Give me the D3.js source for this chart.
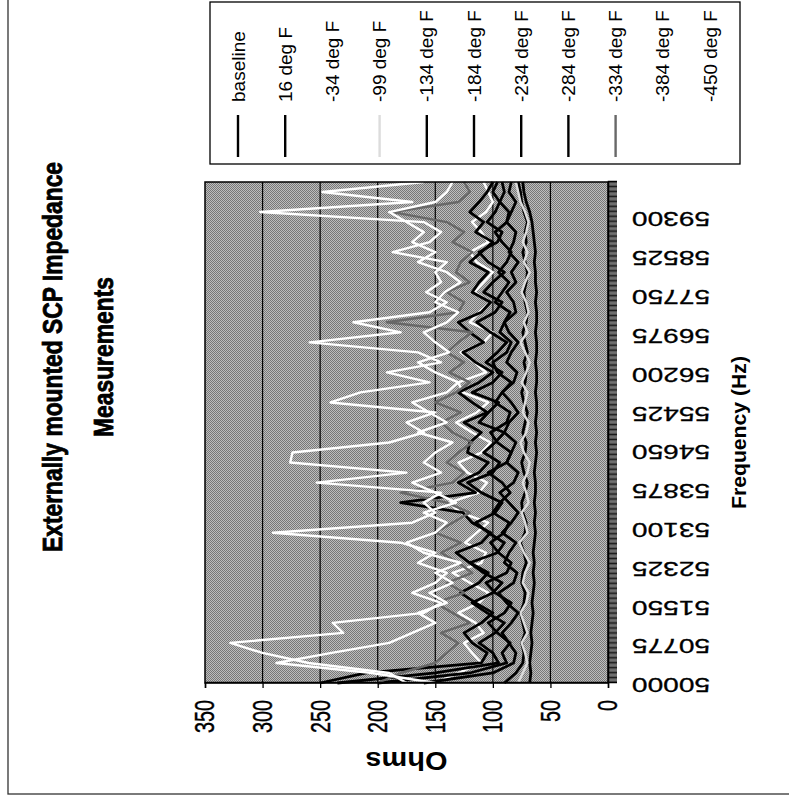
<!DOCTYPE html>
<html>
<head>
<meta charset="utf-8">
<title>SCP Impedance</title>
<script src="https://cdn.jsdelivr.net/npm/d3@7/dist/d3.min.js"></script>
<style>
  body { margin: 0; background: #fff; }
  svg { display: block; }
  text { font-family: "Liberation Sans", Arial, sans-serif; fill: #000; }
</style>
</head>
<body>
<svg width="789" height="807"></svg>
<script>
var freqs = [50000, 50200, 50400, 50600, 50800, 51000, 51200, 51400, 51600, 51800,
             52000, 52200, 52400, 52600, 52800, 53000, 53200, 53400, 53600, 53800,
             54000, 54200, 54400, 54600, 54800, 55000, 55200, 55400, 55600, 55800,
             56000, 56200, 56400, 56600, 56800, 57000, 57200, 57400, 57600, 57800,
             58000, 58200, 58400, 58600, 58800, 59000, 59200, 59400, 59600, 59800, 60000];
var freqLabels = [50000, 50775, 51550, 52325, 53100, 53875, 54650, 55425, 56200, 56975, 57750, 58525, 59300];
var ohmTicks = [0, 50, 100, 150, 200, 250, 300, 350];

var seriesNames = ["baseline", "16 deg F", "-34 deg F", "-99 deg F", "-134 deg F", "-184 deg F",
                   "-234 deg F", "-284 deg F", "-334 deg F", "-384 deg F", "-450 deg F"];
var seriesColors = ["#000", "#000", "#fff", "#dcdcdc", "#000", "#000", "#000", "#000", "#686868", "#fff", "#fff"];

var baseline = [68, 67, 68, 67, 66, 67, 66, 65, 66, 65, 64, 65, 64, 65, 64, 63, 64, 63, 64, 63,
                63, 64, 63, 62, 63, 62, 63, 62, 62, 63, 62, 62, 63, 62, 62, 63, 62, 62, 63, 62,
                63, 63, 64, 63, 64, 65, 66, 68, 71, 73, 74];
var deg16 = [90, 80, 74, 73, 75, 72, 74, 76, 73, 72, 75, 74, 71, 73, 76, 72, 71, 74, 75, 72,
             70, 73, 75, 72, 71, 74, 72, 70, 73, 75, 72, 71, 73, 70, 72, 74, 71, 70, 72, 73,
             71, 70, 72, 74, 71, 72, 70, 73, 75, 76, 78];
var deg34 = [150, 130, 110, 118, 125, 108, 115, 130, 112, 104, 120, 135, 110, 106, 124, 114, 104, 128, 138, 112,
             105, 122, 130, 110, 102, 118, 132, 114, 104, 126, 130, 106, 116, 128, 108, 100, 120, 112, 102, 116,
             108, 100, 114, 120, 104, 110, 118, 106, 100, 104, 108];
var deg99 = [78, 74, 70, 72, 75, 70, 73, 76, 71, 69, 74, 72, 68, 73, 77, 70, 72, 75, 69, 71,
             74, 70, 68, 73, 76, 71, 69, 74, 72, 70, 75, 71, 68, 72, 76, 70, 73, 69, 71, 75,
             72, 68, 73, 70, 74, 71, 69, 72, 76, 78, 80];
var deg134 = [160, 100, 82, 80, 86, 92, 84, 78, 88, 95, 82, 79, 90, 86, 80, 92, 84, 78, 86, 94,
              82, 78, 88, 84, 80, 90, 86, 78, 84, 92, 82, 79, 88, 84, 78, 86, 90, 80, 82, 88,
              80, 84, 78, 86, 82, 80, 88, 84, 80, 86, 84];
var deg184 = [200, 120, 88, 92, 85, 96, 104, 90, 84, 98, 106, 88, 84, 95, 102, 90, 86, 100, 94, 85,
              92, 104, 88, 84, 96, 102, 88, 85, 98, 92, 84, 96, 100, 88, 84, 94, 90, 85, 98, 92,
              86, 95, 88, 84, 92, 98, 88, 86, 94, 90, 92];
var deg234 = [235, 150, 95, 100, 112, 98, 90, 105, 118, 100, 92, 108, 120, 96, 90, 104, 115, 98, 92, 110,
              122, 100, 94, 108, 98, 90, 112, 104, 95, 118, 100, 92, 106, 96, 88, 102, 114, 98, 92, 108,
              100, 90, 104, 112, 96, 92, 105, 98, 94, 100, 96];
var deg284 = [250, 210, 110, 105, 118, 125, 110, 100, 115, 128, 112, 104, 120, 132, 110, 102, 118, 126, 180, 115,
              130, 112, 104, 122, 120, 110, 125, 105, 118, 130, 112, 100, 115, 126, 108, 120, 130, 110, 102, 118,
              112, 104, 120, 110, 100, 115, 108, 120, 112, 105, 100];
var deg334 = [200, 180, 150, 140, 130, 145, 120, 135, 150, 125, 140, 118, 130, 145, 128, 150, 135, 120, 140, 180,
              135, 125, 140, 130, 118, 135, 145, 128, 150, 132, 120, 138, 125, 140, 130, 118, 192, 130, 125, 140,
              120, 132, 128, 118, 135, 125, 140, 187, 130, 120, 125];
var deg384 = [150, 205, 288, 240, 190, 170, 150, 165, 140, 155, 135, 150, 128, 160, 175, 150, 140, 160, 132, 150,
              170, 145, 160, 150, 135, 165, 140, 155, 170, 140, 130, 150, 165, 138, 150, 160, 140, 130, 150, 142,
              128, 140, 165, 150, 170, 160, 175, 190, 150, 140, 135];
var deg450 = [175, 190, 260, 300, 328, 230, 239, 160, 145, 170, 150, 140, 165, 150, 180, 291, 170, 150, 160, 145,
              253, 175, 276, 274, 190, 160, 175, 150, 241, 215, 155, 192, 145, 165, 259, 180, 221, 155, 140, 158,
              145, 150, 140, 187, 155, 145, 160, 302, 170, 248, 160];

var seriesValues = [baseline, deg16, deg34, deg99, deg134, deg184, deg234, deg284, deg334, deg384, deg450];

var svg = d3.select('svg');
// chart is drawn in its own landscape frame, then turned a quarter turn
var g = svg.append('g').attr('transform', 'translate(0,807) rotate(-90)');

// outer chart frame
g.append('rect')
  .attr('x', 13).attr('y', 8)
  .attr('width', 810).attr('height', 800)
  .attr('fill', 'none').attr('stroke', '#333').attr('stroke-width', 1.3);

var x = d3.scaleLinear().domain([50000, 60000]).range([124, 625]);
var y = d3.scaleLinear().domain([0, 350]).range([608, 205]);

var defs = svg.append('defs');
var pat = defs.append('pattern').attr('id', 'dither')
  .attr('patternUnits', 'userSpaceOnUse').attr('width', 2).attr('height', 2);
pat.append('rect').attr('width', 2).attr('height', 2).attr('fill', '#bebebe');
pat.append('rect').attr('width', 1).attr('height', 1).attr('fill', '#787878');
pat.append('rect').attr('x', 1).attr('y', 1).attr('width', 1).attr('height', 1).attr('fill', '#787878');

// plot background
g.append('rect')
  .attr('x', x(50000)).attr('y', y(350))
  .attr('width', x(60000) - x(50000)).attr('height', y(0) - y(350))
  .attr('fill', 'url(#dither)');

// gridlines
g.selectAll('.grid').data(ohmTicks.slice(1, -1)).enter()
  .append('line')
  .attr('x1', x(50000)).attr('x2', x(60000))
  .attr('y1', function(d) { return y(d); }).attr('y2', function(d) { return y(d); })
  .attr('stroke', '#000').attr('stroke-width', 1.2);

// series
var line = d3.line()
  .x(function(d, i) { return x(freqs[i]); })
  .y(function(d) { return y(d); });

seriesValues.forEach(function(vals, k) {
  g.append('path')
    .attr('d', line(vals))
    .attr('fill', 'none')
    .attr('stroke', seriesColors[k])
    .attr('stroke-width', seriesColors[k] == '#000' ? 2.8 : 2.4)
    .attr('stroke-linejoin', 'round');
});

// plot frame
g.append('rect')
  .attr('x', x(50000)).attr('y', y(350))
  .attr('width', x(60000) - x(50000)).attr('height', y(0) - y(350))
  .attr('fill', 'none').attr('stroke', '#000').attr('stroke-width', 1.5);

// Ohms axis
var yAxis = g.append('g').attr('transform', 'translate(' + x(50000) + ',0)')
  .call(d3.axisLeft(y).tickValues(ohmTicks).tickSize(5).tickPadding(12));
yAxis.select('.domain').attr('stroke', '#000').attr('stroke-width', 1.5);
yAxis.selectAll('.tick line').attr('stroke', '#000').attr('stroke-width', 1.3);
yAxis.selectAll('.tick text')
  .attr('font-size', 28).attr('font-family', '"Liberation Sans", Arial, sans-serif')
  .attr('stroke', '#000').attr('stroke-width', 0.4)
  .attr('textLength', function(d) { return String(d).length * 11; })
  .attr('lengthAdjust', 'spacingAndGlyphs');

// frequency axis: dense category ticks
var xAxis = g.append('g').attr('transform', 'translate(0,' + y(0) + ')')
  .call(d3.axisBottom(x).tickValues(d3.range(50000, 60001, 25)).tickSize(9).tickFormat(''));
xAxis.select('.domain').attr('stroke', '#000').attr('stroke-width', 1.5);
xAxis.selectAll('.tick line').attr('stroke', '#000').attr('stroke-width', 0.9);

var xLab = g.append('g').attr('transform', 'translate(0,' + y(0) + ')')
  .call(d3.axisBottom(x).tickValues(freqLabels).tickSize(0).tickFormat(d3.format('d')));
xLab.select('.domain').remove();
xLab.selectAll('.tick text')
  .attr('font-size', 21).attr('font-family', '"Liberation Sans", Arial, sans-serif')
  .attr('stroke', '#000').attr('stroke-width', 0.3)
  .attr('transform', 'rotate(-90)')
  .attr('text-anchor', 'end')
  .attr('x', -24).attr('y', 0).attr('dy', '0.2em')
  .attr('textLength', 78).attr('lengthAdjust', 'spacingAndGlyphs');

// axis titles
g.append('text')
  .attr('transform', 'translate(55,' + ((y(0) + y(350)) / 2) + ') rotate(-90)')
  .attr('text-anchor', 'middle')
  .attr('font-size', 25).attr('font-weight', 'bold')
  .attr('textLength', 82).attr('lengthAdjust', 'spacingAndGlyphs')
  .text('Ohms');

g.append('text')
  .attr('x', (x(50000) + x(60000)) / 2).attr('y', 746)
  .attr('text-anchor', 'middle')
  .attr('font-size', 21).attr('font-weight', 'bold')
  .attr('textLength', 153).attr('lengthAdjust', 'spacingAndGlyphs')
  .text('Frequency (Hz)');

// title
var title = ['Externally mounted SCP Impedance', 'Measurements'];
var titleLen = [390, 160];
title.forEach(function(t, i) {
  g.append('text')
    .attr('x', 450).attr('y', 62 + i * 51)
    .attr('text-anchor', 'middle')
    .attr('font-family', '"Liberation Sans Narrow", "Liberation Sans", Arial, sans-serif')
    .attr('font-size', 27).attr('font-weight', 'bold')
    .attr('stroke', '#000').attr('stroke-width', 0.8)
    .attr('textLength', titleLen[i]).attr('lengthAdjust', 'spacingAndGlyphs')
    .text(t);
});

// legend
var legend = g.append('g');
legend.append('rect')
  .attr('x', 643).attr('y', 210)
  .attr('width', 162).attr('height', 530)
  .attr('fill', '#fff').attr('stroke', '#000').attr('stroke-width', 1.3);

var rowY = d3.scalePoint().domain(seriesNames).range([238, 710]);
seriesNames.forEach(function(name, k) {
  legend.append('line')
    .attr('x1', 650).attr('x2', 692)
    .attr('y1', rowY(name)).attr('y2', rowY(name))
    .attr('stroke', seriesColors[k]).attr('stroke-width', 2.4);
  legend.append('text')
    .attr('x', 705).attr('y', rowY(name)).attr('dy', '0.35em')
    .attr('font-size', 19)
    .text(name);
});
</script>
</body>
</html>
